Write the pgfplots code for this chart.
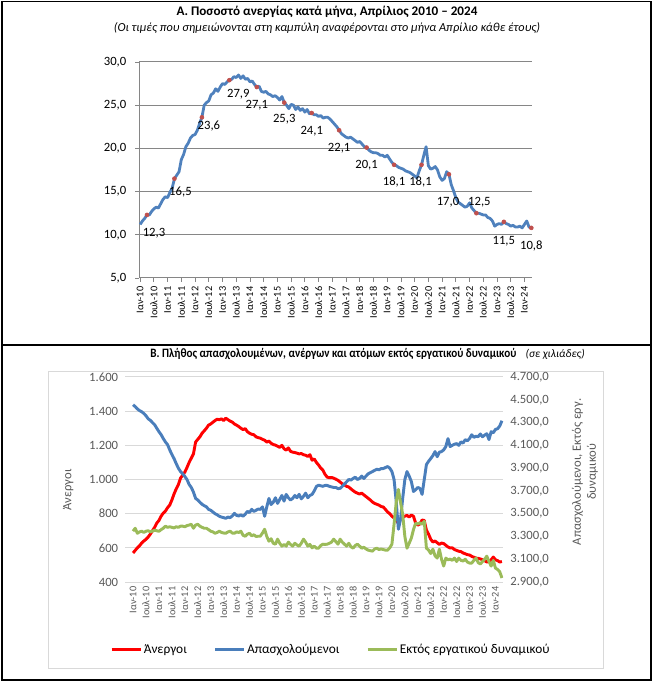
\documentclass[border=0pt]{standalone}
\usepackage{fontspec}
\setmainfont{Carlito}
\usepackage{graphicx}
\usepackage{pgfplots}
\pgfplotsset{compat=1.18}
\usepackage{pgfplotstable}

\definecolor{rateblue}{RGB}{79,129,189}
\definecolor{dotred}{RGB}{192,80,77}
\definecolor{unred}{RGB}{255,0,0}
\definecolor{empblue}{RGB}{74,126,187}
\definecolor{outgreen}{RGB}{155,187,89}
\definecolor{gridgray}{RGB}{134,134,134}
\definecolor{lightgrid}{RGB}{217,217,217}
\definecolor{ticktext}{RGB}{89,89,89}

% April values with label offsets (pt)
\pgfplotstableread{
m v lbl dx dy
3 12.3 12,3 5.25 -13.5
15 16.5 16,5 4.5 -9.75
27 23.6 23,6 5.25 -6.75
39 27.9 27,9 6.75 -10.5
51 27.1 27,1 0 -13.5
63 25.3 25,3 0 -12.75
75 24.1 24,1 0 -13.5
87 22.1 22,1 0 -13.5
99 20.1 20,1 0 -13.5
111 18.1 18,1 0 -12.75
123 18.1 18,1 -0.75 -12.75
135 17.0 17,0 -0.75 -21
147 12.5 12,5 2.25 8.25
159 11.5 11,5 0 -14.25
171 10.8 10,8 0 -13.5
}\aprtable

\def\monthlabels{Ιαν-10,Ιουλ-10,Ιαν-11,Ιουλ-11,Ιαν-12,Ιουλ-12,Ιαν-13,Ιουλ-13,Ιαν-14,Ιουλ-14,Ιαν-15,Ιουλ-15,Ιαν-16,Ιουλ-16,Ιαν-17,Ιουλ-17,Ιαν-18,Ιουλ-18,Ιαν-19,Ιουλ-19,Ιαν-20,Ιουλ-20,Ιαν-21,Ιουλ-21,Ιαν-22,Ιουλ-22,Ιαν-23,Ιουλ-23,Ιαν-24}

\begin{document}
\begin{tikzpicture}
\useasboundingbox (0,0) rectangle (490.5pt,512.25pt);

% frame
\draw[black, line width=0.8pt] (1.5pt,511pt) rectangle (488.25pt,2.25pt);
\draw[black, line width=0.8pt] (1.5pt,253.5pt) -- (488.25pt,253.5pt);
\draw[lightgrid, line width=0.6pt] (36pt,11.25pt) rectangle (452.25pt,234pt);

% titles
\node[font=\bfseries\fontsize{9.85}{12}\selectfont] at (245.25pt,503.25pt)
  {Α. Ποσοστό ανεργίας κατά μήνα, Απρίλιος 2010 – 2024};
\node[font=\itshape\fontsize{9.2}{11}\selectfont] at (245.25pt,491.25pt)
  {(Οι τιμές που σημειώνονται στη καμπύλη αναφέρονται στο μήνα Απρίλιο κάθε έτους)};
\node[anchor=west, inner sep=0pt] at (112.5pt,246.75pt)
  {\scalebox{0.87}[1]{\bfseries\fontsize{9.6}{11}\selectfont Β. Πλήθος απασχολουμένων, ανέργων και ατόμων εκτός εργατικού δυναμικού}\hspace{7pt}{\itshape\fontsize{8.5}{10}\selectfont (σε χιλιάδες)}};

% ---------- panel A ----------
\begin{axis}[
  at={(104.25pt,303.75pt)}, anchor=south west,
  width=294.75pt, height=162pt, scale only axis,
  xmin=-0.5, xmax=171.3, ymin=5, ymax=30,
  ytick={5,10,...,30},
  xtick={0,6,...,168},
  xticklabels/.expand once=\monthlabels,
  x tick label style={rotate=90, anchor=east, font=\fontsize{7.7}{8}\selectfont},
  y tick label style={font=\fontsize{9.5}{10}\selectfont, xshift=-3pt,
    /pgf/number format/.cd, fixed, fixed zerofill, precision=1, use comma},
  /pgf/number format/assume math mode=true,
  ymajorgrids, grid style={gridgray, line width=0.75pt},
  axis x line*=bottom, axis y line*=left,
  axis line style={gridgray, line width=0.75pt},
  tick style={gridgray, line width=0.6pt},
  major tick length=3pt, tick align=outside,
  clip=false,
]
\addplot[rateblue, line width=2.1pt, line join=round] coordinates {
(0,11.2)(1,11.6)(2,11.9)(3,12.3)(4,12.3)(5,12.7)(6,13.0)(7,13.2)(8,13.1)(9,13.6)(10,14.1)(11,14.4)
(12,14.3)(13,14.9)(14,15.4)(15,16.5)(16,16.9)(17,17.3)(18,18.7)(19,19.3)(20,20.2)(21,20.6)(22,21.2)(23,21.5)
(24,21.6)(25,22.1)(26,22.9)(27,23.6)(28,25.0)(29,25.3)(30,25.5)(31,26.2)(32,26.4)(33,26.9)(34,26.6)(35,27.1)
(36,27.5)(37,27.4)(38,27.7)(39,27.9)(40,28.0)(41,28.3)(42,28.2)(43,28.5)(44,28.1)(45,28.4)(46,28.0)(47,28.1)
(48,27.7)(49,27.8)(50,27.4)(51,27.1)(52,27.2)(53,26.6)(54,26.5)(55,26.6)(56,26.3)(57,26.2)(58,26.0)(59,26.1)
(60,25.9)(61,25.6)(62,26.0)(63,25.3)(64,25.0)(65,24.6)(66,25.1)(67,25.0)(68,24.5)(69,24.8)(70,24.4)(71,24.6)
(72,24.2)(73,24.5)(74,24.0)(75,24.1)(76,23.9)(77,23.9)(78,23.7)(79,23.8)(80,23.5)(81,23.6)(82,23.6)(83,23.4)
(84,23.1)(85,22.8)(86,22.5)(87,22.1)(88,21.7)(89,21.5)(90,21.3)(91,21.2)(92,21.3)(93,21.1)(94,20.9)(95,20.7)
(96,20.8)(97,20.5)(98,20.2)(99,20.1)(100,19.8)(101,19.6)(102,19.5)(103,19.5)(104,19.4)(105,19.2)(106,19.2)(107,19.0)
(108,19.2)(109,18.8)(110,18.4)(111,18.1)(112,18.0)(113,17.8)(114,17.7)(115,17.6)(116,17.4)(117,17.3)(118,17.2)(119,17.0)
(120,16.8)(121,16.6)(122,17.4)(123,18.1)(124,19.2)(125,20.2)(126,18.0)(127,17.6)(128,17.7)(129,17.9)(130,17.5)(131,16.7)
(132,16.3)(133,16.5)(134,17.3)(135,17.0)(136,15.8)(137,15.1)(138,14.3)(139,13.8)(140,13.6)(141,13.4)(142,13.2)(143,13.3)
(144,13.7)(145,13.1)(146,12.8)(147,12.5)(148,12.5)(149,12.4)(150,12.3)(151,12.3)(152,12.0)(153,11.9)(154,11.6)(155,11.0)
(156,11.2)(157,11.3)(158,11.2)(159,11.5)(160,11.3)(161,11.2)(162,11.0)(163,11.1)(164,10.9)(165,10.9)(166,11.0)(167,10.8)
(168,11.2)(169,11.6)(170,10.9)(171,10.8)
};
\addplot[only marks, mark=*, mark size=1.5pt, color=dotred,
  nodes near coords, point meta=explicit symbolic,
  visualization depends on={\thisrow{dx}\as\dx},
  visualization depends on={\thisrow{dy}\as\dy},
  every node near coord/.append style={anchor=center, xshift=\dx, yshift=\dy,
    text=black, font=\fontsize{9.5}{10}\selectfont}]
  table[x=m, y=v, meta=lbl] {\aprtable};
\end{axis}

% ---------- panel B ----------
\begin{axis}[
  at={(94.125pt,75.75pt)}, anchor=south west,
  width=283.125pt, height=153.75pt, scale only axis,
  xmin=-3.5, xmax=171.5, ymin=400, ymax=1600,
  ytick={400,600,...,1600},
  xtick={0,6,...,168},
  xticklabels/.expand once=\monthlabels,
  x tick label style={rotate=90, anchor=east, text=ticktext, font=\fontsize{7.7}{8}\selectfont},
  y tick label style={text=ticktext, font=\fontsize{9.5}{10}\selectfont, xshift=-2pt,
    /pgf/number format/.cd, fixed, precision=0, use comma},
  /pgf/number format/assume math mode=true,
  ymajorgrids, grid style={lightgrid, line width=0.75pt},
  axis line style={draw=none}, tick style={draw=none}, major tick length=0pt,
  ylabel={Άνεργοι},
  ylabel style={at={(axis description cs:-0.152,0.449)}, anchor=center,
    text=ticktext, font=\fontsize{9.5}{10}\selectfont},
]
\addplot[unred, line width=2.2pt, line join=round] coordinates {
(0,570)(1,585)(2,600)(3,612)(4,628)(5,640)(6,650)(7,663)(8,680)(9,700)(10,720)(11,745)
(12,760)(13,785)(14,803)(15,815)(16,835)(17,850)(18,880)(19,915)(20,945)(21,970)(22,1008)(23,1025)
(24,1043)(25,1070)(26,1100)(27,1125)(28,1150)(29,1219)(30,1235)(31,1250)(32,1271)(33,1285)(34,1300)(35,1318)
(36,1325)(37,1335)(38,1345)(39,1353)(40,1350)(41,1355)(42,1345)(43,1359)(44,1350)(45,1342)(46,1336)(47,1325)
(48,1318)(49,1310)(50,1300)(51,1292)(52,1298)(53,1280)(54,1271)(55,1265)(56,1262)(57,1250)(58,1245)(59,1242)
(60,1235)(61,1230)(62,1219)(63,1225)(64,1212)(65,1205)(66,1201)(67,1195)(68,1188)(69,1200)(70,1180)(71,1172)
(72,1185)(73,1165)(74,1160)(75,1158)(76,1154)(77,1150)(78,1152)(79,1145)(80,1142)(81,1135)(82,1145)(83,1113)
(84,1120)(85,1100)(86,1085)(87,1067)(88,1055)(89,1030)(90,1014)(91,1010)(92,1012)(93,1008)(94,1002)(95,995)
(96,985)(97,975)(98,968)(99,960)(100,956)(101,945)(102,935)(103,926)(104,920)(105,915)(106,920)(107,910)
(108,900)(109,890)(110,880)(111,868)(112,860)(113,855)(114,850)(115,842)(116,839)(117,825)(118,810)(119,800)
(120,785)(121,775)(122,760)(123,745)(124,770)(125,780)(126,785)(127,790)(128,780)(129,792)(130,785)(131,745)
(132,733)(133,740)(134,763)(135,760)(136,704)(137,680)(138,650)(139,634)(140,640)(141,630)(142,620)(143,628)
(144,625)(145,615)(146,605)(147,599)(148,600)(149,590)(150,585)(151,580)(152,578)(153,570)(154,565)(155,560)
(156,558)(157,550)(158,545)(159,540)(160,538)(161,535)(162,530)(163,525)(164,517)(165,520)(166,530)(167,546)
(168,530)(169,525)(170,517)(171,520)
};
\end{axis}

\begin{axis}[
  at={(94.125pt,75.75pt)}, anchor=south west,
  width=283.125pt, height=153.75pt, scale only axis,
  xmin=-3.5, xmax=171.5, ymin=2900, ymax=4700,
  axis x line=none, axis y line*=right,
  ytick={2900,3100,...,4700},
  y tick label style={text=ticktext, font=\fontsize{9.5}{10}\selectfont, xshift=2pt,
    /pgf/number format/.cd, fixed, fixed zerofill, precision=1, use comma},
  /pgf/number format/assume math mode=true,
  axis line style={draw=none}, tick style={draw=none}, major tick length=0pt,
  ylabel={\shortstack{Απασχολούμενοι, Εκτός εργ.\\δυναμικού}},
  ylabel style={at={(axis description cs:1.217,0.537)}, anchor=center, rotate=0,
    text=ticktext, font=\fontsize{9.5}{11}\selectfont},
  legend style={at={(0.545,-0.33)}, anchor=center, draw=none, fill=none,
    legend columns=3, font=\fontsize{10}{11}\selectfont,
    /tikz/every odd column/.append style={column sep=-1pt},
    /tikz/every even column/.append style={column sep=18pt}},
  legend image code/.code={\draw[#1, line width=2.2pt] (0pt,0pt) -- (22pt,0pt);},
]
\addlegendimage{unred}
\addlegendentry{Άνεργοι}
\addplot[empblue, line width=2.2pt, line join=round] coordinates {
(0,4456)(1,4440)(2,4420)(3,4405)(4,4395)(5,4380)(6,4360)(7,4333)(8,4320)(9,4300)(10,4281)(11,4250)
(12,4220)(13,4194)(14,4160)(15,4130)(16,4106)(17,4060)(18,4020)(19,3984)(20,3940)(21,3900)(22,3870)(23,3850)
(24,3827)(25,3800)(26,3757)(27,3730)(28,3690)(29,3634)(30,3620)(31,3600)(32,3582)(33,3570)(34,3560)(35,3538)
(36,3530)(37,3515)(38,3500)(39,3490)(40,3477)(41,3470)(42,3465)(43,3459)(44,3470)(45,3465)(46,3480)(47,3503)
(48,3485)(49,3480)(50,3490)(51,3477)(52,3495)(53,3520)(54,3510)(55,3538)(56,3520)(57,3530)(58,3540)(59,3538)
(60,3560)(61,3477)(62,3560)(63,3634)(64,3580)(65,3600)(66,3640)(67,3590)(68,3625)(69,3660)(70,3610)(71,3669)
(72,3640)(73,3620)(74,3634)(75,3660)(76,3640)(77,3670)(78,3630)(79,3652)(80,3680)(81,3640)(82,3660)(83,3669)
(84,3700)(85,3739)(86,3750)(87,3745)(88,3740)(89,3748)(90,3748)(91,3740)(92,3735)(93,3730)(94,3730)(95,3720)
(96,3722)(97,3740)(98,3760)(99,3780)(100,3800)(101,3795)(102,3809)(103,3820)(104,3800)(105,3809)(106,3830)(107,3809)
(108,3830)(109,3850)(110,3860)(111,3870)(112,3880)(113,3890)(114,3885)(115,3896)(116,3896)(117,3905)(118,3914)(119,3900)
(120,3870)(121,3800)(122,3608)(123,3363)(124,3450)(125,3634)(126,3800)(127,3870)(128,3830)(129,3783)(130,3695)(131,3710)
(132,3730)(133,3722)(134,3669)(135,3800)(136,3931)(137,3960)(138,3984)(139,4010)(140,4045)(141,4000)(142,4040)(143,4045)
(144,4060)(145,4089)(146,4159)(147,4089)(148,4100)(149,4110)(150,4115)(151,4100)(152,4130)(153,4120)(154,4150)(155,4140)
(156,4160)(157,4193)(158,4170)(159,4180)(160,4176)(161,4200)(162,4175)(163,4190)(164,4202)(165,4150)(166,4220)(167,4210)
(168,4240)(169,4246)(170,4270)(171,4316)
};
\addlegendentry{Απασχολούμενοι}
\addplot[outgreen, line width=2.2pt, line join=round] coordinates {
(0,3346)(1,3372)(2,3328)(3,3340)(4,3346)(5,3335)(6,3346)(7,3350)(8,3340)(9,3346)(10,3355)(11,3350)
(12,3345)(13,3360)(14,3372)(15,3390)(16,3380)(17,3385)(18,3380)(19,3375)(20,3385)(21,3380)(22,3390)(23,3390)
(24,3385)(25,3395)(26,3400)(27,3407)(28,3372)(29,3400)(30,3407)(31,3390)(32,3380)(33,3372)(34,3372)(35,3360)
(36,3346)(37,3340)(38,3328)(39,3335)(40,3346)(41,3335)(42,3330)(43,3328)(44,3340)(45,3346)(46,3330)(47,3328)
(48,3340)(49,3335)(50,3346)(51,3310)(52,3302)(53,3320)(54,3328)(55,3305)(56,3315)(57,3300)(58,3302)(59,3302)
(60,3330)(61,3363)(62,3300)(63,3258)(64,3280)(65,3240)(66,3232)(67,3276)(68,3240)(69,3215)(70,3230)(71,3215)
(72,3250)(73,3230)(74,3215)(75,3240)(76,3225)(77,3215)(78,3240)(79,3276)(80,3250)(81,3215)(82,3230)(83,3200)
(84,3215)(85,3197)(86,3197)(87,3220)(88,3232)(89,3230)(90,3232)(91,3240)(92,3250)(93,3276)(94,3255)(95,3232)
(96,3276)(97,3250)(98,3232)(99,3215)(100,3240)(101,3210)(102,3197)(103,3220)(104,3232)(105,3215)(106,3197)(107,3205)
(108,3190)(109,3180)(110,3175)(111,3171)(112,3190)(113,3197)(114,3185)(115,3190)(116,3185)(117,3180)(118,3180)(119,3200)
(120,3232)(121,3407)(122,3600)(123,3713)(124,3600)(125,3494)(126,3300)(127,3197)(128,3240)(129,3285)(130,3360)(131,3416)
(132,3410)(133,3420)(134,3407)(135,3433)(136,3197)(137,3180)(138,3150)(139,3188)(140,3130)(141,3110)(142,3188)(143,3100)
(144,3040)(145,3110)(146,3095)(147,3101)(148,3090)(149,3110)(150,3080)(151,3110)(152,3090)(153,3084)(154,3100)(155,3075)
(156,3066)(157,3066)(158,3090)(159,3110)(160,3070)(161,3058)(162,3080)(163,3100)(164,3127)(165,3080)(166,3040)(167,3090)
(168,3022)(169,3010)(170,2990)(171,2935)
};
\addlegendentry{Εκτός εργατικού δυναμικού}
\end{axis}
\end{tikzpicture}
\end{document}
